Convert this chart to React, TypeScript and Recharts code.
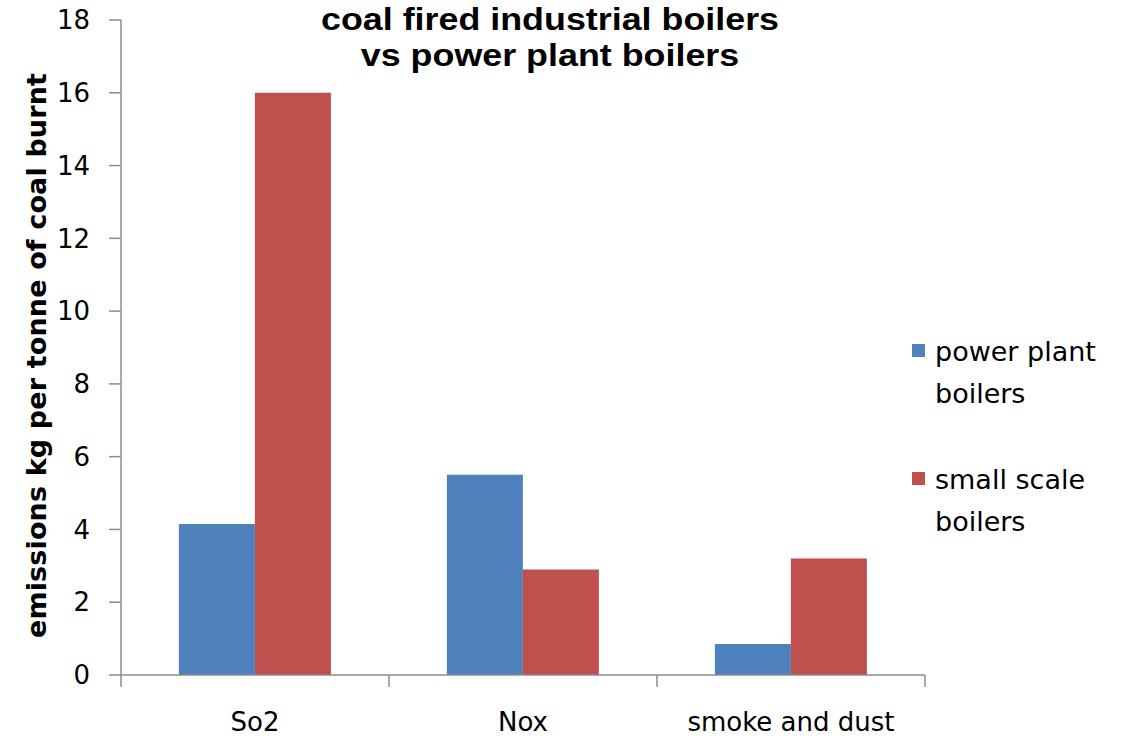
import { Bar, BarChart, Legend, XAxis, YAxis } from 'recharts';

// emissions (kg per tonne of coal burnt) by pollutant
const categories = ['So2', 'Nox', 'smoke and dust'];
const powerPlantBoilers = [4.15, 5.5, 0.85];
const smallScaleBoilers = [16, 2.9, 3.2];
const yTicks = [0, 2, 4, 6, 8, 10, 12, 14, 16, 18];

const data = categories.map((name, i) => ({
  name,
  power: powerPlantBoilers[i],
  small: smallScaleBoilers[i],
}));

const AXIS_GREY = '#8c8c8c';
const BLUE = '#4f81bd';
const RED = '#c0504d';
const TICK_FONT = { fontFamily: 'DejaVu Sans', fontSize: 26, fill: '#000' };
const X_TICK_SIZE = 12;
const X_TICK_MARGIN = 26;

// Category label plus tick marks on the group boundaries (between bars,
// not under them). payload.offset is half the band width.
function CategoryTick(props: any) {
  const { x, y, payload, index, visibleTicksCount } = props;
  const half = payload.offset ?? 0;
  const axisY = y - X_TICK_SIZE - X_TICK_MARGIN;
  const tickProps = { stroke: AXIS_GREY, strokeWidth: 1.5, y1: axisY, y2: axisY + X_TICK_SIZE };
  return (
    <g>
      <line {...tickProps} x1={x - half} x2={x - half} />
      {index === visibleTicksCount - 1 && <line {...tickProps} x1={x + half} x2={x + half} />}
      <text x={x} y={y} dy="0.71em" textAnchor="middle" {...TICK_FONT}>
        {payload.value}
      </text>
    </g>
  );
}

function LegendList({ payload }: { payload?: any[] }) {
  return (
    <div style={{ fontFamily: 'DejaVu Sans', fontSize: 27, color: '#000' }}>
      {(payload ?? []).map((entry) => (
        <div key={entry.value} style={{ display: 'flex', alignItems: 'flex-start', marginBottom: 44 }}>
          <span
            style={{
              display: 'inline-block',
              flex: '0 0 13px',
              width: 13,
              height: 13,
              background: entry.color,
              marginTop: 13,
              marginRight: 10,
            }}
          />
          <span style={{ width: 185, lineHeight: '42px' }}>{entry.value}</span>
        </div>
      ))}
    </div>
  );
}

function YAxisTitle({ viewBox }: any) {
  const cy = viewBox.y + viewBox.height / 2 + 8;
  return (
    <text
      transform={`translate(46, ${cy}) rotate(-90)`}
      textAnchor="middle"
      fontFamily="DejaVu Sans"
      fontWeight="bold"
      fontSize={27}
      textLength={565}
      fill="#000"
    >
      emissions kg per tonne of coal burnt
    </text>
  );
}

// two-line title, slightly widened like the Excel original
const titleLine = {
  position: 'absolute' as const,
  left: 250,
  width: 600,
  textAlign: 'center' as const,
  fontFamily: 'Liberation Sans, Arial, sans-serif',
  fontWeight: 'bold' as const,
  fontSize: 32,
  lineHeight: '36px',
  color: '#000',
  whiteSpace: 'nowrap' as const,
  transform: 'scaleX(1.12)',
  transformOrigin: '300px 0',
};

export default function App() {
  return (
    <div style={{ position: 'absolute', left: 0, top: 0, width: 1133, height: 738, background: '#fff' }}>
      <div style={{ ...titleLine, top: 1 }}>coal fired industrial boilers</div>
      <div style={{ ...titleLine, top: 37 }}>vs power plant boilers</div>
      <BarChart
        width={1133}
        height={738}
        data={data}
        margin={{ top: 20, right: 208, bottom: 3, left: 0 }}
        barCategoryGap="21.6%"
        barGap={0}
      >
        <XAxis
          dataKey="name"
          height={60}
          tickLine={false}
          tickSize={X_TICK_SIZE}
          tickMargin={X_TICK_MARGIN}
          axisLine={{ stroke: AXIS_GREY, strokeWidth: 1.5 }}
          tick={<CategoryTick />}
          interval={0}
        />
        <YAxis
          width={121}
          domain={[0, 18]}
          ticks={yTicks}
          interval={0}
          tickSize={12}
          tickMargin={19}
          tick={TICK_FONT}
          axisLine={{ stroke: AXIS_GREY, strokeWidth: 1.5 }}
          tickLine={{ stroke: AXIS_GREY, strokeWidth: 1.5 }}
          label={{ content: YAxisTitle }}
        />
        <Legend
          layout="horizontal"
          verticalAlign="middle"
          align="center"
          content={<LegendList />}
          wrapperStyle={{ position: 'absolute', left: 912, top: 331, width: 221 }}
        />
        <Bar dataKey="power" name="power plant boilers" fill={BLUE} isAnimationActive={false} />
        <Bar dataKey="small" name="small scale boilers" fill={RED} isAnimationActive={false} />
      </BarChart>
    </div>
  );
}
